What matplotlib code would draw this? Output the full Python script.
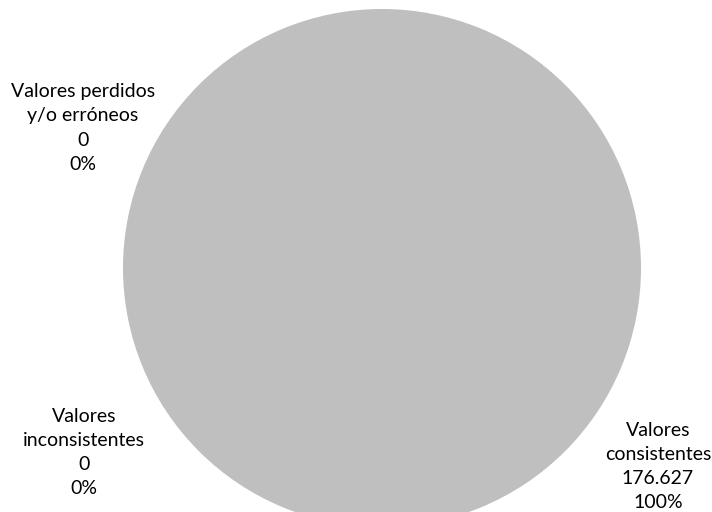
import matplotlib
matplotlib.use('Agg')
import matplotlib.pyplot as plt

# data
categories = ['Valores\nconsistentes', 'Valores perdidos\ny/o erróneos', 'Valores\ninconsistentes']
counts = [176627, 0, 0]
colors = ['#BFBFBF', '#A5A5A5', '#7F7F7F']
# label anchor positions (pixels, y from top)
label_pos = [(658, 467), (83, 128), (84, 452)]

total = sum(counts)

def fmt_count(n):
    return '{:,}'.format(n).replace(',', '.')

fig = plt.figure(figsize=(7.12, 5.12), dpi=100)
ax = fig.add_axes([0, 0, 1, 1])
ax.pie(counts, colors=colors, center=(382, 268), radius=259,
       startangle=90, counterclock=False)
ax.set_xlim(0, 712)
ax.set_ylim(512, 0)
ax.set_aspect('equal')
ax.axis('off')

for cat, n, (x, y) in zip(categories, counts, label_pos):
    pct = 100 * n / total
    txt = cat + '\n' + fmt_count(n) + '\n' + '{:.0f}%'.format(pct)
    ax.text(x, y, txt, ha='center', va='center', fontsize=14,
            family='Lato', color='#000000', linespacing=1.5)

plt.savefig('out.png', dpi=100)
plt.close()
